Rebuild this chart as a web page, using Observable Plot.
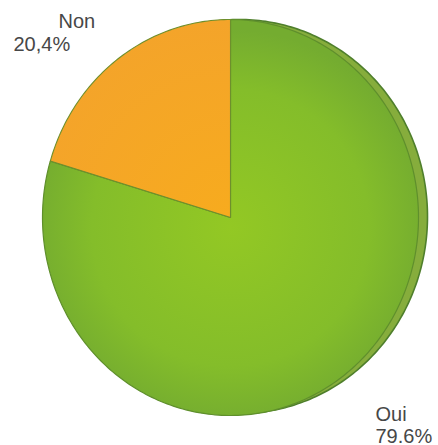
<!DOCTYPE html>
<html>
<head>
<meta charset="utf-8">
<script src="https://cdn.jsdelivr.net/npm/d3@7"></script>
<script src="https://cdn.jsdelivr.net/npm/@observablehq/plot@0.6"></script>
<style>
  html, body { margin: 0; padding: 0; background: #fff; }
  #chart { width: 438px; height: 445px; }
</style>
</head>
<body>
<div id="chart"></div>
<script>
// Data
const categories = ["Oui", "Non"];
const values = [79.6, 20.4];
const valueLabels = ["79.6%", "20,4%"];

// Layout (pixels)
const W = 438, H = 445;
const cx = 230, cy = 217, RX = 188, RY = 198;

// Build slice outlines (clockwise from 12 o'clock), unit radius
const pie = d3.pie().sort(null).value(d => d)(values);
const pts = [];
pie.forEach((p, i) => {
  const a0 = p.startAngle, a1 = p.endAngle;
  const n = Math.max(2, Math.ceil((a1 - a0) / (Math.PI / 180)));
  pts.push({cat: categories[i], x: 0, y: 0});
  for (let k = 0; k <= n; k++) {
    const a = a0 + (a1 - a0) * k / n;
    pts.push({cat: categories[i], x: Math.sin(a), y: Math.cos(a)});
  }
});
// full outline for the rim / shadow
const rim = d3.range(0, 361, 1).map(deg => ({x: Math.sin(deg * Math.PI / 180), y: Math.cos(deg * Math.PI / 180)}));

const toX = px => (px - cx) / RX;
const toY = py => (cy - py) / RY;
const shift = 9 / RX;

const labelFont = {fontSize: 20, fontFamily: "Liberation Sans, Arial, sans-serif", fill: "#474747", textAnchor: "start", lineAnchor: "bottom"};

const chart = Plot.plot({
  width: W,
  height: H,
  margin: 0,
  x: {domain: [toX(0), toX(W)], axis: null},
  y: {domain: [toY(H), toY(0)], axis: null},
  marks: [
    // 3D side shadow on the right
    Plot.line(rim, {
      x: d => d.x * 1.0 + shift, y: d => d.y * 0.995 + 1 / RY, curve: "linear-closed",
      fill: "#86ad3c", stroke: "#4f7f2c", strokeWidth: 1.6
    }),
    Plot.line(pts.filter(d => d.cat === "Oui"), {
      x: "x", y: "y", curve: "linear-closed",
      fill: "url(#gGreen)", stroke: "#5f8f2c", strokeWidth: 1.2
    }),
    Plot.line(pts.filter(d => d.cat === "Non"), {
      x: "x", y: "y", curve: "linear-closed",
      fill: "url(#gOrange)", stroke: "#6e8f2c", strokeWidth: 1.1
    }),
    // labels
    Plot.text([categories[1]], {x: toX(58), y: toY(27), text: d => d, ...labelFont}),
    Plot.text([valueLabels[1]], {x: toX(13), y: toY(50), text: d => d, ...labelFont}),
    Plot.text([categories[0]], {x: toX(375), y: toY(420), text: d => d, ...labelFont}),
    Plot.text([valueLabels[0]], {x: toX(375), y: toY(442), text: d => d, ...labelFont})
  ]
});

// gradients
const ns = "http://www.w3.org/2000/svg";
const defs = document.createElementNS(ns, "defs");
defs.innerHTML = `
  <radialGradient id="gGreen" gradientUnits="userSpaceOnUse" cx="${cx}" cy="${cy + 10}" r="${RY}">
    <stop offset="0" stop-color="#93c824"/>
    <stop offset="0.7" stop-color="#84bd2a"/>
    <stop offset="1" stop-color="#74ac30"/>
  </radialGradient>
  <radialGradient id="gOrange" gradientUnits="userSpaceOnUse" cx="${cx}" cy="${cy}" r="${RY}">
    <stop offset="0" stop-color="#f7ab1e"/>
    <stop offset="1" stop-color="#f4a42a"/>
  </radialGradient>`;
chart.insertBefore(defs, chart.firstChild);

document.getElementById("chart").appendChild(chart);
</script>
</body>
</html>
